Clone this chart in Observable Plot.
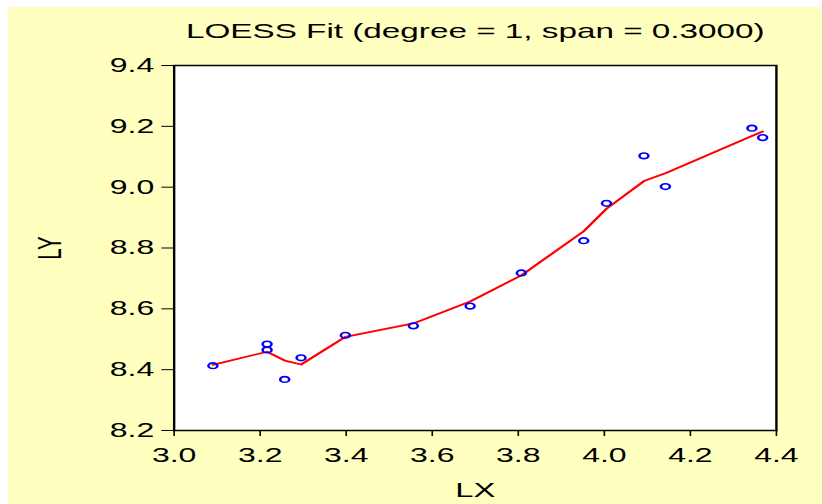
<!DOCTYPE html>
<html>
<head>
<meta charset="utf-8">
<script src="https://cdn.jsdelivr.net/npm/d3@7"></script>
<script src="https://cdn.jsdelivr.net/npm/@observablehq/plot@0.6"></script>
<style>
html, body { margin: 0; padding: 0; background: #ffffff; width: 822px; height: 504px; overflow: hidden; }
#bg { position: absolute; left: 8px; top: 7px; width: 814px; height: 497px; background: #FFFFC0; }
#chart { position: absolute; left: 0; top: 0; }
</style>
</head>
<body>
<div id="bg"></div>
<div id="chart"></div>
<script>
const titleText = "LOESS Fit (degree = 1, span = 0.3000)";
const xLabel = "LX";
const yLabel = "LY";

const lx  = [3.090, 3.216, 3.216, 3.257, 3.295, 3.398, 3.556, 3.688, 3.807, 3.952, 4.005, 4.092, 4.142, 4.343, 4.368];
const ly  = [8.413, 8.484, 8.465, 8.368, 8.439, 8.513, 8.544, 8.609, 8.718, 8.824, 8.947, 9.103, 9.002, 9.194, 9.163];
const fit = [8.416, 8.459, 8.459, 8.430, 8.417, 8.508, 8.552, 8.624, 8.710, 8.855, 8.929, 9.020, 9.046, 9.168, 9.183];

const xTicks = [3.0, 3.2, 3.4, 3.6, 3.8, 4.0, 4.2, 4.4];
const yTicks = [8.2, 8.4, 8.6, 8.8, 9.0, 9.2, 9.4];

const W = 514, H = 504;
const pts = lx.map((x, i) => ({x, y: ly[i], f: fit[i]}));
const font = "'Liberation Sans', Arial, sans-serif";

const svg = Plot.plot({
  width: W,
  height: H,
  marginLeft: 108.4,
  marginRight: 29,
  marginTop: 65,
  marginBottom: 74,
  style: {background: "transparent", fontFamily: font, fontSize: "20px", color: "#000000", overflow: "visible"},
  x: {domain: [3.0, 4.4], ticks: xTicks, tickFormat: d3.format(".1f"), tickSize: 6, tickPadding: 10.8, label: null},
  y: {domain: [8.2, 9.4], ticks: yTicks, tickFormat: d3.format(".1f"), tickSize: 7.5, tickPadding: 5, label: null},
  marks: [
    Plot.frame({fill: "white"}),
    Plot.line(pts, {x: "x", y: "f", stroke: "#ff0000", strokeWidth: 1.8}),
    Plot.dot(pts, {x: "x", y: "y", r: 2.8, stroke: "#0000ff", strokeWidth: 1.6, fill: "none"}),
    Plot.frame({stroke: "black", strokeWidth: 1.5}),
    Plot.text([titleText], {text: d => d, frameAnchor: "top", lineAnchor: "middle", textAnchor: "middle", dy: -34.4, fontSize: 20.8, fill: "#000000"}),
    Plot.text([xLabel], {text: d => d, frameAnchor: "bottom", lineAnchor: "middle", textAnchor: "middle", dy: 59.6, fontSize: 20.5, fill: "#000000"}),
    Plot.text([yLabel], {text: d => d, frameAnchor: "left", lineAnchor: "middle", textAnchor: "middle", dx: -77.3, rotate: -90, fontSize: 20.5, fill: "#000000"})
  ]
});

svg.setAttribute("width", 822);
svg.setAttribute("height", 504);
svg.setAttribute("preserveAspectRatio", "none");
svg.style.maxWidth = "none";
svg.style.width = "822px";
svg.style.height = "504px";
document.getElementById("chart").appendChild(svg);
</script>
</body>
</html>
